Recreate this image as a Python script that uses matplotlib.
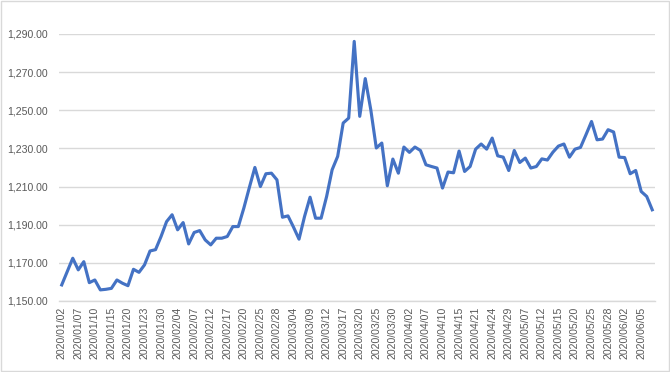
import matplotlib.pyplot as plt
from matplotlib.patches import Rectangle
from matplotlib.ticker import FuncFormatter

# ---- data ----
dates = [
    "2020/01/02", "2020/01/03", "2020/01/06", "2020/01/07", "2020/01/08", "2020/01/09",
    "2020/01/10", "2020/01/13", "2020/01/14", "2020/01/15", "2020/01/16", "2020/01/17",
    "2020/01/20", "2020/01/21", "2020/01/22", "2020/01/23", "2020/01/24", "2020/01/29",
    "2020/01/30", "2020/01/31", "2020/02/03", "2020/02/04", "2020/02/05", "2020/02/06",
    "2020/02/07", "2020/02/10", "2020/02/11", "2020/02/12", "2020/02/13", "2020/02/14",
    "2020/02/17", "2020/02/18", "2020/02/19", "2020/02/20", "2020/02/21", "2020/02/24",
    "2020/02/25", "2020/02/26", "2020/02/27", "2020/02/28", "2020/03/02", "2020/03/03",
    "2020/03/04", "2020/03/05", "2020/03/06", "2020/03/09", "2020/03/10", "2020/03/11",
    "2020/03/12", "2020/03/13", "2020/03/16", "2020/03/17", "2020/03/18", "2020/03/19",
    "2020/03/20", "2020/03/23", "2020/03/24", "2020/03/25", "2020/03/26", "2020/03/27",
    "2020/03/30", "2020/03/31", "2020/04/01", "2020/04/02", "2020/04/03", "2020/04/06",
    "2020/04/07", "2020/04/08", "2020/04/09", "2020/04/10", "2020/04/13", "2020/04/14",
    "2020/04/15", "2020/04/16", "2020/04/20", "2020/04/21", "2020/04/22", "2020/04/23",
    "2020/04/24", "2020/04/27", "2020/04/28", "2020/04/29", "2020/04/30", "2020/05/06",
    "2020/05/07", "2020/05/08", "2020/05/11", "2020/05/12", "2020/05/13", "2020/05/14",
    "2020/05/15", "2020/05/18", "2020/05/19", "2020/05/20", "2020/05/21", "2020/05/22",
    "2020/05/25", "2020/05/26", "2020/05/27", "2020/05/28", "2020/05/29", "2020/06/01",
    "2020/06/02", "2020/06/03", "2020/06/04", "2020/06/05", "2020/06/08", "2020/06/09",
]

prices = [
    1158.4, 1165.4, 1172.4, 1166.3, 1170.6, 1159.6, 1161.0, 1155.8, 1156.1, 1156.6,
    1161.0, 1159.3, 1158.0, 1166.6, 1165.0, 1168.9, 1176.2, 1176.9, 1183.8, 1191.6,
    1195.2, 1187.3, 1191.1, 1179.9, 1185.9, 1186.9, 1182.0, 1179.4, 1182.9, 1182.9,
    1183.8, 1189.0, 1189.0, 1198.7, 1209.5, 1220.0, 1210.0, 1216.7, 1217.0, 1213.5,
    1193.9, 1194.6, 1188.7, 1182.4, 1194.3, 1204.4, 1193.4, 1193.4, 1204.8, 1218.8,
    1225.8, 1243.3, 1245.9, 1286.1, 1246.8, 1266.6, 1250.3, 1230.2, 1232.8, 1210.4,
    1224.4, 1217.0, 1230.7, 1227.9, 1230.7, 1228.9, 1221.4, 1220.5, 1219.7, 1209.2,
    1217.6, 1217.2, 1228.6, 1217.9, 1220.5, 1229.6, 1232.3, 1229.6, 1235.4, 1226.1,
    1225.4, 1218.4, 1228.9, 1222.6, 1224.9, 1219.7, 1220.5, 1224.5, 1223.9, 1228.0,
    1231.2, 1232.3, 1225.4, 1229.6, 1230.5, 1237.2, 1244.1, 1234.5, 1234.9, 1239.8,
    1238.6, 1225.4, 1225.2, 1216.7, 1218.4, 1207.4, 1204.8, 1197.8,
]

y_ticks = [1150, 1170, 1190, 1210, 1230, 1250, 1270, 1290]

# ---- figure ----
plt.rcParams['font.family'] = ['Liberation Sans', 'DejaVu Sans']
fig = plt.figure(figsize=(6.7, 3.72), dpi=100)
ax = fig.add_axes([0.088, 0.191, 0.8896, 0.7177])

x = list(range(len(prices)))
ax.plot(x, prices, color="#4472C4", linewidth=2.25, solid_joinstyle="round", zorder=3)

ax.set_xlim(-0.5, len(prices) - 0.5)
ax.set_ylim(1150, 1290)
ax.set_yticks(y_ticks)
ax.yaxis.set_major_formatter(FuncFormatter(lambda v, p: f"{v:,.2f}"))
ax.set_xticks(x[::3])
ax.set_xticklabels(dates[::3], rotation=90)

ax.grid(True, axis="y", color="#d9d9d9", linewidth=1)
ax.set_axisbelow(True)
for side in ["left", "right", "top"]:
    ax.spines[side].set_visible(False)
ax.spines["bottom"].set_color("#d9d9d9")
ax.spines["bottom"].set_linewidth(1)
ax.tick_params(axis="both", length=0, colors="#595959", labelsize=7.6)
ax.tick_params(axis="y", pad=8)
ax.tick_params(axis="x", pad=4)

# chart area border
fig.patches.append(Rectangle((0.001, 0.002), 0.997, 0.995, transform=fig.transFigure,
                             fill=False, edgecolor="#d9d9d9", linewidth=1))

plt.savefig("out.png", dpi=100)
